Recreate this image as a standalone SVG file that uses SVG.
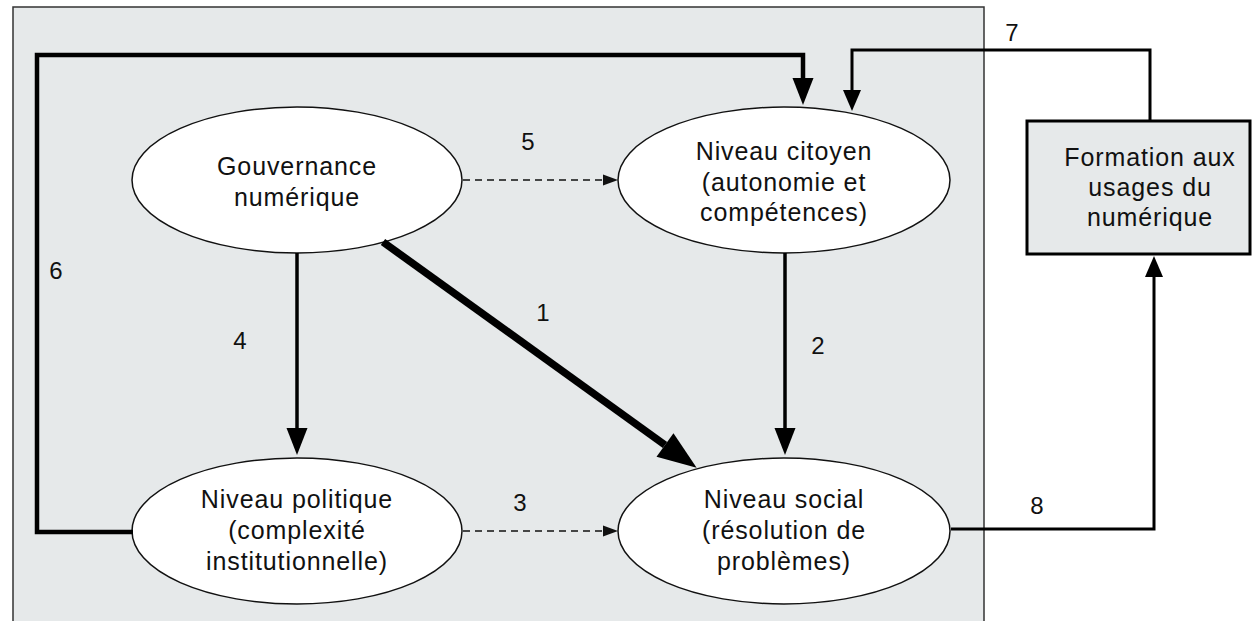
<svg xmlns="http://www.w3.org/2000/svg" width="1254" height="621" viewBox="0 0 1254 621">
<style>
text{font-family:"Liberation Sans",Arial,sans-serif;fill:#111;}
.lbl{font-size:25px;letter-spacing:0.9px;text-anchor:middle;}
.num{font-size:24px;text-anchor:middle;}
.ell{fill:#fff;stroke:#111;stroke-width:1.5;}
.ln{fill:none;stroke:#000;stroke-linejoin:miter;}
.dash{fill:none;stroke:#111;stroke-width:1.5;stroke-dasharray:7,5;}
</style>
<defs>
<marker id="hBig" markerUnits="userSpaceOnUse" orient="auto" refX="0" refY="0" markerWidth="40" markerHeight="32" overflow="visible"><path d="M0,-14.5 L39,0 L0,14.5 Z" fill="#000"/></marker>
<marker id="hMed" markerUnits="userSpaceOnUse" orient="auto" refX="0" refY="0" markerWidth="28" markerHeight="24" overflow="visible"><path d="M0,-10.5 L27,0 L0,10.5 Z" fill="#000"/></marker>
<marker id="hSm" markerUnits="userSpaceOnUse" orient="auto" refX="0" refY="0" markerWidth="22" markerHeight="20" overflow="visible"><path d="M0,-9 L21,0 L0,9 Z" fill="#000"/></marker>
<marker id="hDash" markerUnits="userSpaceOnUse" orient="auto" refX="0" refY="0" markerWidth="16" markerHeight="12" overflow="visible"><path d="M0,-5.5 L15,0 L0,5.5 Z" fill="#111"/></marker>
</defs>
<rect x="13" y="7" width="971" height="625" fill="#e6e9ea" stroke="#333" stroke-width="1.5"/>
<g id="n-gouvernance">
<ellipse class="ell" cx="297" cy="180" rx="165" ry="73"/>
<text class="lbl" x="297" y="175">Gouvernance</text>
<text class="lbl" x="297" y="206">numérique</text>
</g>
<g id="n-citoyen">
<ellipse class="ell" cx="784" cy="180" rx="166" ry="73"/>
<text class="lbl" x="784" y="160">Niveau citoyen</text>
<text class="lbl" x="784" y="191">(autonomie et</text>
<text class="lbl" x="784" y="221">compétences)</text>
</g>
<g id="n-politique">
<ellipse class="ell" cx="297" cy="531" rx="165" ry="73"/>
<text class="lbl" x="297" y="508">Niveau politique</text>
<text class="lbl" x="297" y="539">(complexité</text>
<text class="lbl" x="297" y="570">institutionnelle)</text>
</g>
<g id="n-social">
<ellipse class="ell" cx="784" cy="531" rx="166" ry="73"/>
<text class="lbl" x="784" y="508">Niveau social</text>
<text class="lbl" x="784" y="539">(résolution de</text>
<text class="lbl" x="784" y="570">problèmes)</text>
</g>
<g id="n-formation">
<rect x="1027" y="121" width="223" height="133" fill="#e6e9ea" stroke="#000" stroke-width="3"/>
<text class="lbl" x="1150" y="166">Formation aux</text>
<text class="lbl" x="1150" y="196">usages du</text>
<text class="lbl" x="1150" y="226">numérique</text>
</g>
<g id="connectors">
<path class="ln" d="M383,242 L665,445" stroke-width="7.5" marker-end="url(#hBig)"/>
<path class="ln" d="M785,253 V428" stroke-width="3.5" marker-end="url(#hMed)"/>
<path class="ln" d="M297,253 V428" stroke-width="3.5" marker-end="url(#hMed)"/>
<path class="dash" d="M463,531 H603" marker-end="url(#hDash)"/>
<path class="dash" d="M463,180 H603" marker-end="url(#hDash)"/>
<path class="ln" d="M133,532 H37 V55 H803 V78" stroke-width="4.5" marker-end="url(#hMed)"/>
<path class="ln" d="M1150,121 V50 H852 V90" stroke-width="3" marker-end="url(#hSm)"/>
<path class="ln" d="M951,529 H1154 V277" stroke-width="3" marker-end="url(#hSm)"/>
</g>
<g id="labels">
<text class="num" x="543" y="321">1</text>
<text class="num" x="818" y="354">2</text>
<text class="num" x="520" y="511">3</text>
<text class="num" x="240" y="349">4</text>
<text class="num" x="528" y="150">5</text>
<text class="num" x="56" y="279">6</text>
<text class="num" x="1012" y="41">7</text>
<text class="num" x="1037" y="514">8</text>
</g>
</svg>
